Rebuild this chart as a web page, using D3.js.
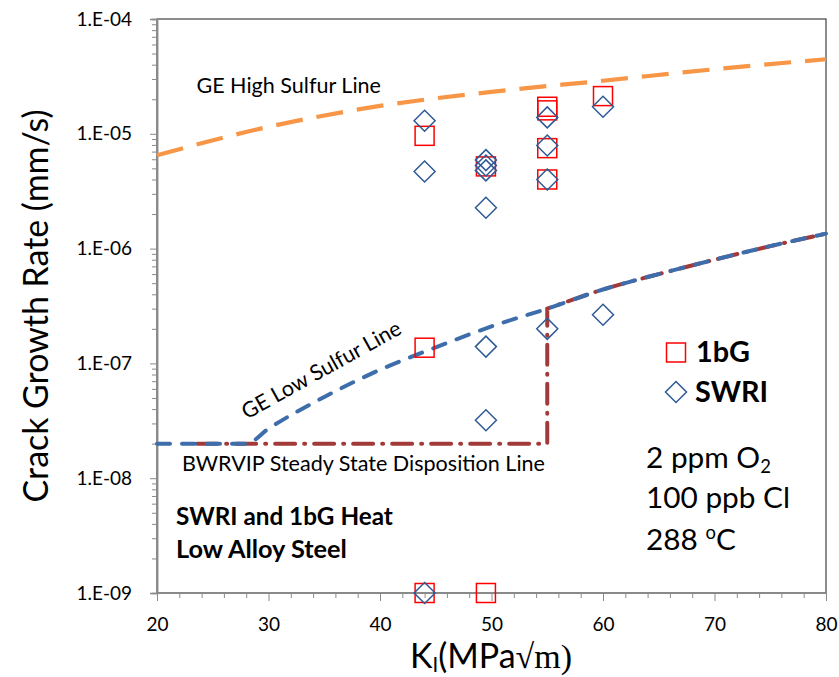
<!DOCTYPE html>
<html><head><meta charset="utf-8">
<script src="https://cdn.jsdelivr.net/npm/d3@7/dist/d3.min.js"></script>
<style>
html,body{margin:0;padding:0;background:#fff;}
svg text{font-family:Lato,"Open Sans",sans-serif;fill:#000;}
</style></head>
<body>
<svg id="chart" width="839" height="677"></svg>
<script>
// ---------- data ----------
const series1bG_K    = [44, 49.5, 55, 55, 55, 55, 60, 44, 44, 49.5];
const series1bG_rate = [9.6e-6, 5.2e-6, 1.72e-5, 1.6e-5, 7.5e-6, 4.0e-6, 2.13e-5, 1.37e-7, 1e-9, 1e-9];

const seriesSWRI_K    = [44, 44, 49.5, 49.5, 49.5, 49.5, 55, 55, 55, 60, 49.5, 49.5, 55, 60, 44];
const seriesSWRI_rate = [1.3e-5, 4.7e-6, 5.9e-6, 5.3e-6, 4.8e-6, 2.27e-6, 1.39e-5, 7.9e-6, 4.0e-6, 1.72e-5, 1.4e-7, 3.2e-8, 2.0e-7, 2.65e-7, 1e-9];

const highSulfurK    = [20, 30, 40, 50, 60, 70, 80];
const highSulfurRate = [6.5e-6, 1.15e-5, 1.75e-5, 2.32e-5, 2.9e-5, 3.65e-5, 4.46e-5];

const lowSulfurK    = [20, 28, 30, 35, 40, 45, 50, 55, 60, 65, 70, 75, 80];
const lowSulfurRate = [2e-8, 2e-8, 2.7e-8, 5.1e-8, 8.8e-8, 1.38e-7, 2.1e-7, 3.0e-7, 4.4e-7, 6.0e-7, 8.0e-7, 1.05e-6, 1.35e-6];

const dispositionK    = [23.6, 55, 55, 60, 65, 70, 75, 80];
const dispositionRate = [2e-8, 2e-8, 3.0e-7, 4.4e-7, 6.0e-7, 8.0e-7, 1.05e-6, 1.35e-6];

const xTickValues = [20, 30, 40, 50, 60, 70, 80];
const yTickValues = [1e-9, 1e-8, 1e-7, 1e-6, 1e-5, 1e-4];
const yTickLabels = ["1.E-09", "1.E-08", "1.E-07", "1.E-06", "1.E-05", "1.E-04"];

// ---------- helpers ----------
function fit(sel, target) {
  const w = sel.node().getComputedTextLength();
  const fs = parseFloat(sel.attr("font-size"));
  if (w > 0) sel.attr("font-size", (fs * target / w).toFixed(2));
  return sel;
}

// ---------- layout ----------
const svg = d3.select("#chart");
const L = 157, R = 826, T = 19, B = 593;
const x = d3.scaleLinear().domain([20, 80]).range([L, R]);
const y = d3.scaleLog().domain([1e-9, 1e-4]).range([B, T]);

svg.append("rect").attr("x", L).attr("y", T).attr("width", R - L).attr("height", B - T)
  .attr("fill", "none").attr("stroke", "#1a1a1a").attr("stroke-width", 1);

const yMinor = [];
for (let e = -9; e < -4; e++) for (let m = 2; m <= 9; m++) yMinor.push(m * Math.pow(10, e));
const xMinor = d3.range(22, 80, 2).filter(v => v % 10 !== 0);

const axisColor = "#8a8a8a";
const gyMinor = svg.append("g").attr("transform", `translate(${L},0)`)
  .call(d3.axisLeft(y).tickValues(yMinor).tickSize(5).tickFormat(""));
const gy = svg.append("g").attr("transform", `translate(${L},0)`)
  .call(d3.axisLeft(y).tickValues(yTickValues).tickSize(7).tickPadding(18)
    .tickFormat((d, i) => yTickLabels[i]));
const gxMinor = svg.append("g").attr("transform", `translate(0,${B})`)
  .call(d3.axisBottom(x).tickValues(xMinor).tickSize(5).tickFormat(""));
const gx = svg.append("g").attr("transform", `translate(0,${B})`)
  .call(d3.axisBottom(x).tickValues(xTickValues).tickSize(8).tickPadding(17).tickFormat(d3.format("d")));

[gyMinor, gy, gxMinor, gx].forEach(g => {
  g.selectAll("path").attr("stroke", axisColor).attr("stroke-width", 1.5);
  g.selectAll("line").attr("stroke", axisColor).attr("stroke-width", 1);
  g.selectAll("text").attr("font-family", "Lato").attr("font-size", 19).attr("fill", "#000");
});
gx.selectAll("path").remove(); gxMinor.selectAll("path").remove();
svg.append("line").attr("x1", L).attr("x2", R).attr("y1", B).attr("y2", B)
  .attr("stroke", axisColor).attr("stroke-width", 1.5);

// ---------- lines ----------
const lineGen = d3.line().x(d => x(d[0])).y(d => y(d[1])).curve(d3.curveMonotoneX);

svg.append("path")
  .attr("d", lineGen(d3.zip(highSulfurK, highSulfurRate)))
  .attr("fill", "none").attr("stroke", "#F79646").attr("stroke-width", 4.2)
  .attr("stroke-dasharray", "27,14").attr("stroke-linecap", "butt");

const dispPts = d3.zip(dispositionK, dispositionRate);
const headPath = d3.line().x(d => x(d[0])).y(d => y(d[1]))(dispPts.slice(0, 3));
const tailPath = lineGen(dispPts.slice(2)).replace(/^M/, "L");
svg.append("path")
  .attr("d", headPath + tailPath)
  .attr("fill", "none").attr("stroke", "#A23A3A").attr("stroke-width", 4)
  .attr("stroke-dasharray", "20,9,1,9").attr("stroke-linecap", "round");

svg.append("path")
  .attr("d", lineGen(d3.zip(lowSulfurK, lowSulfurRate)))
  .attr("fill", "none").attr("stroke", "#3D6DAA").attr("stroke-width", 4)
  .attr("stroke-dasharray", "13,12").attr("stroke-linecap", "round");

// ---------- markers ----------
const sq = 19, dm = 10.5;
svg.append("g").selectAll("rect").data(d3.zip(series1bG_K, series1bG_rate)).join("rect")
  .attr("x", d => x(d[0]) - sq / 2).attr("y", d => y(d[1]) - sq / 2)
  .attr("width", sq).attr("height", sq)
  .attr("fill", "none").attr("stroke", "#FF0000").attr("stroke-width", 1.5);

const diamond = (cx, cy) => `M${cx},${cy - dm}L${cx + dm},${cy}L${cx},${cy + dm}L${cx - dm},${cy}Z`;
svg.append("g").selectAll("path").data(d3.zip(seriesSWRI_K, seriesSWRI_rate)).join("path")
  .attr("d", d => diamond(x(d[0]), y(d[1])))
  .attr("fill", "none").attr("stroke", "#2E5A96").attr("stroke-width", 1.5);

// ---------- annotations ----------
const bw = svg.append("text").attr("x", 182).attr("y", 471)
  .attr("font-size", 20).text("BWRVIP Steady State Disposition Line");
fit(bw, 363);
const annFs = bw.attr("font-size");

svg.append("text").attr("x", 381).attr("y", 93).attr("text-anchor", "end")
  .attr("font-size", annFs).text("GE High Sulfur Line");

svg.append("text").attr("transform", "translate(403,333) rotate(-29)").attr("text-anchor", "end")
  .attr("font-size", annFs).text("GE Low Sulfur Line");

fit(svg.append("text").attr("x", 176).attr("y", 525).attr("font-size", 22).attr("font-weight", "bold")
  .text("SWRI and 1bG Heat"), 217);
fit(svg.append("text").attr("x", 176).attr("y", 558).attr("font-size", 22).attr("font-weight", "bold")
  .text("Low Alloy Steel"), 171);

// legend
svg.append("rect").attr("x", 676 - sq / 2).attr("y", 352.5 - sq / 2).attr("width", sq).attr("height", sq)
  .attr("fill", "none").attr("stroke", "#FF0000").attr("stroke-width", 1.5);
const lg1 = fit(svg.append("text").attr("x", 696).attr("y", 362).attr("font-size", 26).attr("font-weight", "bold").text("1bG"), 54);
svg.append("path").attr("d", diamond(676, 392))
  .attr("fill", "none").attr("stroke", "#2E5A96").attr("stroke-width", 1.5);
svg.append("text").attr("x", 695).attr("y", 402).attr("font-size", lg1.attr("font-size")).attr("font-weight", "bold").text("SWRI");

// conditions
const c2 = svg.append("text").attr("x", 646).attr("y", 508).attr("font-size", 30).text("100 ppb Cl");
fit(c2, 144);
const cFs = c2.attr("font-size");
const t1 = svg.append("text").attr("x", 646).attr("y", 468).attr("font-size", cFs);
t1.append("tspan").text("2 ppm O");
t1.append("tspan").attr("font-size", "62%").attr("dy", "0.25em").text("2");
const t3 = svg.append("text").attr("x", 646).attr("y", 550).attr("font-size", cFs);
t3.append("tspan").text("288 ");
t3.append("tspan").attr("font-size", "62%").attr("dy", "-0.62em").text("o");
t3.append("tspan").attr("dy", "0.385em").text("C");

// axis titles
const xt = svg.append("text").attr("x", 491).attr("y", 668).attr("text-anchor", "middle").attr("font-size", 30);
xt.append("tspan").text("K");
xt.append("tspan").attr("font-size", "60%").attr("dy", "0.2em").text("I");
xt.append("tspan").attr("dy", "-0.12em").text("(MPa");
xt.append("tspan").attr("font-family", "Liberation Serif, DejaVu Serif, serif").text("√m)");
fit(xt, 162);

fit(svg.append("text").attr("transform", "translate(48,306) rotate(-90)").attr("text-anchor", "middle")
  .attr("font-size", 32).text("Crack Growth Rate (mm/s)"), 393);
</script>
</body></html>
